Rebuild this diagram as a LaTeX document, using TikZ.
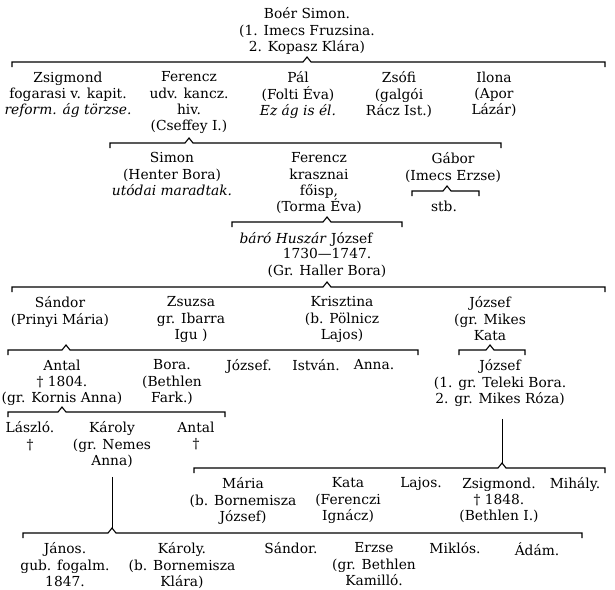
\documentclass[tikz,border=0pt]{standalone}
\usepackage{fontspec}
\setmainfont{DejaVu Serif}
\usepackage{tikz}

\begin{document}
\begin{tikzpicture}[
  x=1pt, y=-1pt,
  font=\fontsize{13.8pt}{16.4pt}\selectfont,
  pers/.style={align=center, anchor=north, inner sep=0pt, yshift=5.5pt},
  brk/.style={line width=1.1pt},
  stem/.style={line width=0.9pt},
]
\useasboundingbox (0,0) rectangle (615,589);

% --- Boér Simon ---
\node[pers] (boer) at (307,13) {Boér Simon.\\(1. Imecs Fruzsina.\\2. Kopasz Klára)};

% --- children of Boér Simon ---
\node[pers] (zsig)  at (68,77)  {Zsigmond\\fogarasi v. kapit.\\\textit{reform. ág törzse.}};
\node[pers] (ferI)  at (189,77) {Ferencz\\udv. kancz.\\hiv.\\(Cseffey I.)};
\node[pers] (pal)   at (298,77) {Pál\\(Folti Éva)\\\textit{Ez ág is él.}};
\node[pers] (zsofi) at (399,77) {Zsófi\\(galgói\\Rácz Ist.)};
\node[pers] (ilona) at (494,77) {Ilona\\(Apor\\Lázár)};

% --- children of Ferencz (udv. kancz.) ---
\node[pers] (simon) at (172,158) {Simon\\(Henter Bora)\\\textit{utódai maradtak.}};
\node[pers] (ferII) at (319,158) {Ferencz\\krasznai\\főisp,\\(Torma Éva)};
\node[pers] (gabor) at (453,158) {Gábor\\(Imecs Erzse)};
\node[pers] (stb)   at (444,206) {stb.};

% --- Huszár József ---
\node[pers] (huszar)  at (306,238) {\textit{báró Huszár} József};
\node[pers] (huszarD) at (327,254) {1730—1747.\\(Gr. Haller Bora)};

% --- children of Huszár József ---
\node[pers] (sandor) at (60,302)  {Sándor\\(Prinyi Mária)};
\node[pers] (zsuzsa) at (191,302) {Zsuzsa\\gr. Ibarra\\Igu )};
\node[pers] (kriszt) at (342,302) {Krisztina\\(b. Pölnicz\\Lajos)};
\node[pers] (jozsI)  at (490,302) {József\\(gr. Mikes\\Kata};

% --- grandchildren ---
\node[pers] (antalI)  at (62,365)  {Antal\\† 1804.\\(gr. Kornis Anna)};
\node[pers] (bora)    at (172,365) {Bora.\\(Bethlen\\Fark.)};
\node[pers] (jozsII)  at (249,365) {József.};
\node[pers] (istvan)  at (316,365) {István.};
\node[pers] (anna)    at (374,365) {Anna.};
\node[pers] (jozsIII) at (500,365) {József\\(1. gr. Teleki Bora.\\2. gr. Mikes Róza)};

% --- children of Antal ---
\node[pers] (laszlo)  at (30,427)  {László.\\†};
\node[pers] (karolyI) at (112,427) {Károly\\(gr. Nemes\\Anna)};
\node[pers] (antalII) at (196,427) {Antal\\†};

% --- children of József (Teleki) ---
\node[pers] (maria)  at (243,483) {Mária\\(b. Bornemisza\\József)};
\node[pers] (kata)   at (348,483) {Kata\\(Ferenczi\\Ignácz)};
\node[pers] (lajos)  at (421,483) {Lajos.};
\node[pers] (zsigII) at (499,483) {Zsigmond.\\† 1848.\\(Bethlen I.)};
\node[pers] (mihaly) at (575,483) {Mihály.};

% --- children of Károly ---
\node[pers] (janos)    at (65,548)  {János.\\gub. fogalm.\\1847.};
\node[pers] (karolyII) at (182,548) {Károly.\\(b. Bornemisza\\Klára)};
\node[pers] (sandorII) at (291,548) {Sándor.};
\node[pers] (erzse)    at (374,548) {Erzse\\(gr. Bethlen\\Kamilló.};
\node[pers] (miklos)   at (455,548) {Miklós.};
\node[pers] (adam)     at (537,548) {Ádám.};

% --- Brackets ---
\coordinate (b1w) at (12,62);   \coordinate (b1e) at (605,62);  \coordinate (b1c) at (boer |- b1w);
\coordinate (b2w) at (110,143); \coordinate (b2e) at (501,143); \coordinate (b2c) at (ferI |- b2w);
\coordinate (bgw) at (412,191); \coordinate (bge) at (479,191); \coordinate (bgc) at ([xshift=-6pt]gabor |- bgw);
\coordinate (b3w) at (232,222); \coordinate (b3e) at (402,222); \coordinate (b3c) at (huszarD |- b3w);
\coordinate (b4w) at (12,287);  \coordinate (b4e) at (605,287); \coordinate (b4c) at (huszarD |- b4w);
\coordinate (b5w) at (8,350);   \coordinate (b5e) at (418,350); \coordinate (b5c) at ([xshift=6pt]sandor |- b5w);
\coordinate (b6w) at (459,350); \coordinate (b6e) at (525,350); \coordinate (b6c) at (jozsI |- b6w);
\coordinate (b7w) at (8,412);   \coordinate (b7e) at (225,412); \coordinate (b7c) at (antalI |- b7w);
\coordinate (b8w) at (194,468); \coordinate (b8e) at (605,468); \coordinate (b8c) at ([xshift=2pt]jozsIII |- b8w);
\coordinate (b9w) at (23,533);  \coordinate (b9e) at (582,533); \coordinate (b9c) at (karolyI |- b9w);

\foreach \b in {b1,b2,bg,b3,b4,b5,b6,b7,b8,b9}
  \draw[brk] ([yshift=-5pt]\b w) -- (\b w) -- ([xshift=-4pt]\b c) -- ([yshift=5pt]\b c)
    -- ([xshift=4pt]\b c) -- (\b e) -- ([yshift=-5pt]\b e);

% --- Stems ---
\draw[stem] ([xshift=2pt,yshift=-12pt]jozsIII.south) -- ([yshift=5pt]b8c);
\draw[stem] ([yshift=-9pt]karolyI.south) -- ([yshift=5pt]b9c);
\end{tikzpicture}
\end{document}
